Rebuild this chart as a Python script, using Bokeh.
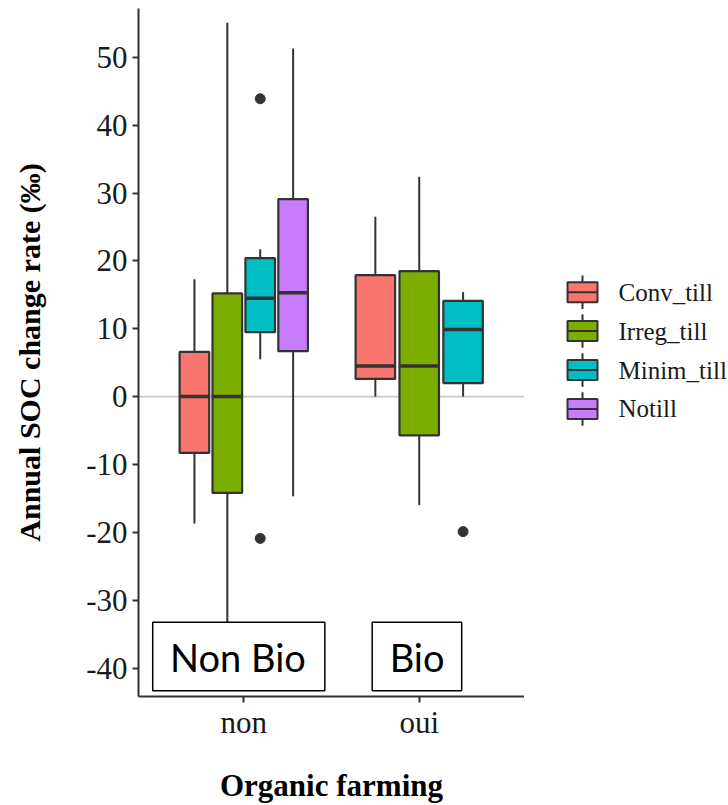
import numpy as np
from bokeh.plotting import figure
from bokeh.models import ColumnDataSource, Range1d, FixedTicker, Span
from bokeh.layouts import row
from bokeh.embed import file_html
from bokeh.resources import INLINE
from bokeh.core.properties import value

# ---------------- data ----------------
groups = ["non", "oui"]
tillage = ["Conv_till", "Irreg_till", "Minim_till", "Notill"]
tillage_colors = ["#F8766D", "#7CAE00", "#00BFC4", "#C77CFF"]

box_group = ["non", "non", "non", "non", "oui", "oui", "oui"]
box_tillage = ["Conv_till", "Irreg_till", "Minim_till", "Notill",
               "Conv_till", "Irreg_till", "Minim_till"]
whisker_low = [-18.7, -42.0, 5.5, -14.7, 0.0, -16.0, 0.0]
q1 = [-8.3, -14.2, 9.5, 6.7, 2.6, -5.7, 2.0]
median = [0.0, 0.0, 14.5, 15.3, 4.5, 4.5, 9.9]
q3 = [6.6, 15.2, 20.4, 29.1, 17.9, 18.5, 14.1]
whisker_high = [17.3, 55.1, 21.7, 51.3, 26.5, 32.4, 15.4]

outlier_group = ["non", "non", "oui"]
outlier_tillage = ["Minim_till", "Minim_till", "Minim_till"]
outlier_value = [43.9, -20.9, -19.9]

y_ticks = [-40, -30, -20, -10, 0, 10, 20, 30, 40, 50]

annot_texts = ["Non Bio", "Bio"]

# ---------------- dodge positions ----------------
DODGE = 0.75


def dodge(g, t):
    present = [tt for tt in tillage
               if any(bg == g and bt == tt for bg, bt in zip(box_group, box_tillage))]
    n = len(present)
    k = present.index(t)
    slot = DODGE / n
    return groups.index(g) + 1 - DODGE / 2 + slot * (k + 0.5), slot * 0.9


bx, bw, bc = [], [], []
for g, t in zip(box_group, box_tillage):
    x, w = dodge(g, t)
    bx.append(x)
    bw.append(w)
    bc.append(tillage_colors[tillage.index(t)])
bx = np.array(bx)
bw = np.array(bw)

src = ColumnDataSource(dict(
    x=bx, left=bx - bw / 2, right=bx + bw / 2,
    lo=whisker_low, q1=q1, med=median, q3=q3, hi=whisker_high, color=bc))

ox = [dodge(g, t)[0] for g, t in zip(outlier_group, outlier_tillage)]

# ---------------- main figure ----------------
FRAME_TOP = 8
FRAME_H = 688
BOTTOM = 805 - FRAME_TOP - FRAME_H

p = figure(frame_width=386, frame_height=FRAME_H,
           x_range=Range1d(0.4, 2.6), y_range=Range1d(-44.2, 57.2),
           min_border_left=138, min_border_right=0, min_border_top=FRAME_TOP,
           min_border_bottom=BOTTOM,
           output_backend="svg", toolbar_location=None)
p.outline_line_color = None
p.xgrid.visible = False
p.ygrid.visible = False
p.background_fill_color = "white"
p.border_fill_color = "white"

p.xaxis.ticker = FixedTicker(ticks=[1, 2])
p.xaxis.major_label_overrides = {1: groups[0], 2: groups[1]}
p.yaxis.ticker = FixedTicker(ticks=y_ticks)
p.yaxis.major_label_overrides = {t: str(t) for t in y_ticks}
for ax in (p.xaxis, p.yaxis):
    ax.axis_line_color = "#333333"
    ax.axis_line_width = 2
    ax.major_tick_line_color = "#333333"
    ax.major_tick_line_width = 2
    ax.major_tick_out = 6
    ax.major_tick_in = 0
    ax.minor_tick_line_color = None
    ax.major_label_text_font = "Liberation Serif"
    ax.major_label_text_font_size = "31px"
    ax.major_label_text_color = "#1a1a1a"
    ax.axis_label_text_font = "Liberation Serif"
    ax.axis_label_text_font_style = "bold"
    ax.axis_label_text_color = "black"
p.yaxis.major_label_standoff = 5
p.xaxis.major_label_standoff = 2
p.xaxis.axis_label = "Organic farming"
p.xaxis.axis_label_text_font_size = "31px"
p.xaxis.axis_label_standoff = 25
p.yaxis.axis_label = "Annual SOC change rate (‰)"
p.yaxis.axis_label_text_font_size = "30px"
p.yaxis.axis_label_standoff = 37

p.add_layout(Span(location=0, dimension="width", line_color="#c8c8c8",
                  line_width=1.6, level="underlay"))

p.segment(x0="x", y0="q3", x1="x", y1="hi", source=src,
          line_color="#333333", line_width=2)
p.segment(x0="x", y0="q1", x1="x", y1="lo", source=src,
          line_color="#333333", line_width=2)
p.quad(left="left", right="right", bottom="q1", top="q3", source=src,
       fill_color="color", line_color="#333333", line_width=2.2)
p.segment(x0="left", y0="med", x1="right", y1="med", source=src,
          line_color="#333333", line_width=3.5)
p.scatter(x=ox, y=outlier_value, size=10, fill_color="#333333",
          line_color="#333333")

# annotation boxes
p.quad(left=[0.481, 1.732], right=[1.462, 2.242], top=[-33.27, -33.27],
       bottom=[-43.34, -43.34], fill_color="white", line_color="black",
       line_width=1.5)
p.text(x=[0.967, 1.988], y=[-38.37, -38.37], text=annot_texts,
       text_font=value("Lato"), text_font_size="38px",
       text_align="center", text_baseline="middle", text_color="black")

# ---------------- legend figure ----------------
ROW0 = 291.7   # screen y of first legend row
ROWH = 38.9    # legend row spacing in px
y_end = -(ROW0 - FRAME_TOP) / ROWH
y_start = y_end + FRAME_H / ROWH
leg = figure(frame_width=204, frame_height=FRAME_H,
             x_range=Range1d(0, 204), y_range=Range1d(y_start, y_end),
             x_axis_type=None, y_axis_type=None,
             min_border_left=0, min_border_right=0,
             min_border_top=FRAME_TOP, min_border_bottom=BOTTOM,
             output_backend="svg", toolbar_location=None)
leg.outline_line_color = None
leg.background_fill_color = "white"
leg.border_fill_color = "white"
rows = np.arange(len(tillage), dtype=float)
kx = np.full(len(tillage), 58.0)
leg.segment(x0=kx, y0=rows - 0.43, x1=kx, y1=rows + 0.43,
            line_color="#333333", line_width=2)
leg.quad(left=kx - 15, right=kx + 15, top=rows - 0.257, bottom=rows + 0.257,
         fill_color=tillage_colors, line_color="#333333", line_width=2)
leg.segment(x0=kx - 15, y0=rows, x1=kx + 15, y1=rows,
            line_color="#333333", line_width=2)
leg.text(x=np.full(len(tillage), 94.0), y=rows, text=tillage,
         text_font=value("Liberation Serif"), text_font_size="25px",
         text_baseline="middle", text_color="#1a1a1a")

layout = row(p, leg)
open("out.html", "w").write(file_html(layout, INLINE))
